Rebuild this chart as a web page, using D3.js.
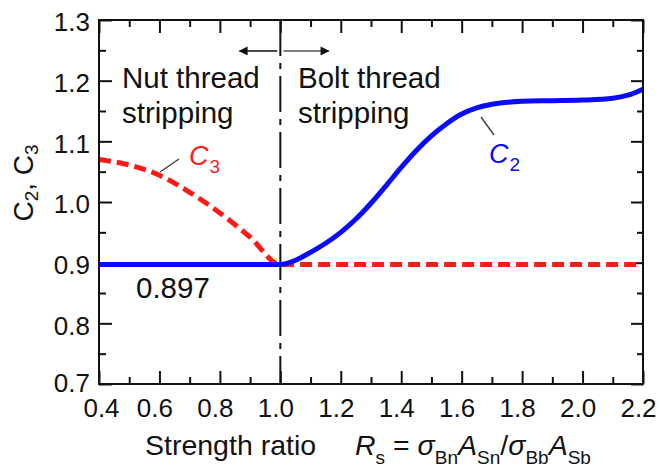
<!DOCTYPE html>
<html>
<head>
<meta charset="utf-8">
<script src="https://cdn.jsdelivr.net/npm/d3@7"></script>
<style>
  html, body { margin: 0; padding: 0; background: #fff; }
  svg { display: block; font-family: "Liberation Sans", Arial, sans-serif; }
</style>
</head>
<body>
<svg id="chart" width="660" height="468"></svg>
<script>
// Strength ratio Rs (x) and correction factors C2, C3 (y)
const c2Ratio = [0.4, 1.0, 1.05, 1.1, 1.15, 1.2, 1.25, 1.3, 1.35, 1.4, 1.45, 1.5, 1.55, 1.6, 1.65, 1.7, 1.8, 1.9, 2.0, 2.1, 2.15, 2.2];
const c2Value = [0.897, 0.897, 0.904, 0.917, 0.932, 0.950, 0.972, 0.998, 1.027, 1.057, 1.085, 1.109, 1.129, 1.145, 1.155, 1.161, 1.166, 1.167, 1.168, 1.171, 1.176, 1.186];
const c3Ratio = [0.4, 0.5, 0.6, 0.7, 0.8, 0.9, 1.0, 2.2];
const c3Value = [1.070, 1.061, 1.044, 1.016, 0.982, 0.942, 0.897, 0.897];

const xMajorTicks = [0.4, 0.6, 0.8, 1.0, 1.2, 1.4, 1.6, 1.8, 2.0, 2.2];
const xMinorTicks = [0.5, 0.7, 0.9, 1.1, 1.3, 1.5, 1.7, 1.9, 2.1];
const yMajorTicks = [0.7, 0.8, 0.9, 1.0, 1.1, 1.2, 1.3];
const yMinorTicks = [0.75, 0.85, 0.95, 1.05, 1.15, 1.25];
const boundaryRatio = 1.0;

const svg = d3.select("#chart");
const plotL = 99, plotR = 643, plotT = 20, plotB = 384;

const x = d3.scaleLinear().domain([0.4, 2.2]).range([plotL, plotR]);
const y = d3.scaleLinear().domain([0.7, 1.3]).range([plotB, plotT]);

const ink = "#111";
const blue = "#0a0aff";
const red = "#ff1a1a";

// ----- axes (ticks point inward on all four sides) -----
function styleAxis(g) {
  g.select(".domain").remove();
  g.selectAll(".tick line").attr("stroke", ink).attr("stroke-width", 2);
  g.selectAll(".tick text").attr("fill", ink).attr("font-size", 26)
    .attr("font-family", "Liberation Sans, Arial, sans-serif");
}

const xLab = svg.append("g").attr("transform", `translate(0,${plotB})`)
  .call(d3.axisBottom(x).tickValues(xMajorTicks).tickSize(-13).tickPadding(15).tickFormat(d3.format(".1f")))
  .call(styleAxis);
xLab.selectAll(".tick text").attr("dx", d => d === 0.4 ? 2 : -5);
svg.append("g").attr("transform", `translate(0,${plotB})`)
  .call(d3.axisBottom(x).tickValues(xMinorTicks).tickSize(-7).tickFormat(""))
  .call(styleAxis);
svg.append("g").attr("transform", `translate(0,${plotT})`)
  .call(d3.axisTop(x).tickValues(xMajorTicks).tickSize(-13).tickFormat(""))
  .call(styleAxis);
svg.append("g").attr("transform", `translate(0,${plotT})`)
  .call(d3.axisTop(x).tickValues(xMinorTicks).tickSize(-7).tickFormat(""))
  .call(styleAxis);

const yLab = svg.append("g").attr("transform", `translate(${plotL},0)`)
  .call(d3.axisLeft(y).tickValues(yMajorTicks).tickSize(-13).tickPadding(9).tickFormat(d3.format(".1f")))
  .call(styleAxis);
yLab.selectAll(".tick text").attr("dy", d => d === 0.7 ? "0.28em" : "0.42em");
svg.append("g").attr("transform", `translate(${plotL},0)`)
  .call(d3.axisLeft(y).tickValues(yMinorTicks).tickSize(-7).tickFormat(""))
  .call(styleAxis);
svg.append("g").attr("transform", `translate(${plotR},0)`)
  .call(d3.axisRight(y).tickValues(yMajorTicks).tickSize(-12).tickFormat(""))
  .call(styleAxis);
svg.append("g").attr("transform", `translate(${plotR},0)`)
  .call(d3.axisRight(y).tickValues(yMinorTicks).tickSize(-6).tickFormat(""))
  .call(styleAxis);

// ----- boundary between the two failure modes -----
svg.append("line")
  .attr("x1", x(boundaryRatio)).attr("x2", x(boundaryRatio))
  .attr("y1", y(1.3)).attr("y2", y(0.7))
  .attr("stroke", ink).attr("stroke-width", 2)
  .attr("stroke-dasharray", "36 7 6 7");

// ----- curves -----
const line = d3.line().x(d => x(d[0])).y(d => y(d[1])).curve(d3.curveMonotoneX);

svg.append("path")
  .datum(c3Ratio.map((r, i) => [r, c3Value[i]]))
  .attr("d", line)
  .attr("fill", "none").attr("stroke", red).attr("stroke-width", 5)
  .attr("stroke-dasharray", "12 6");

svg.append("path")
  .datum(c2Ratio.map((r, i) => [r, c2Value[i]]))
  .attr("d", line)
  .attr("fill", "none").attr("stroke", blue).attr("stroke-width", 5);

// ----- frame -----
svg.append("rect")
  .attr("x", plotL).attr("y", plotT).attr("width", plotR - plotL).attr("height", plotB - plotT)
  .attr("fill", "none").attr("stroke", ink).attr("stroke-width", 2);

// ----- direction arrows -----
const defs = svg.append("defs");
defs.append("marker").attr("id", "head").attr("viewBox", "0 0 10 10")
  .attr("refX", 9).attr("refY", 5).attr("markerUnits", "userSpaceOnUse")
  .attr("markerWidth", 15).attr("markerHeight", 9).attr("orient", "auto")
  .append("path").attr("d", "M0,0 L10,5 L0,10 Z").attr("fill", ink);

svg.append("line")
  .attr("x1", x(0.99)).attr("x2", x(0.865)).attr("y1", y(1.249)).attr("y2", y(1.249))
  .attr("stroke", ink).attr("stroke-width", 1.6).attr("marker-end", "url(#head)");
svg.append("line")
  .attr("x1", x(1.01)).attr("x2", x(1.16)).attr("y1", y(1.249)).attr("y2", y(1.249))
  .attr("stroke", "#555").attr("stroke-width", 1.6).attr("marker-end", "url(#head)");

// ----- region labels -----
function label(px, py, str) {
  svg.append("text").attr("x", px).attr("y", py).attr("font-size", 29.5)
    .attr("fill", ink).text(str);
}
label(122, 88, "Nut thread");
label(122, 123, "stripping");
label(298, 88, "Bolt thread");
label(298, 123, "stripping");
label(136, 298, "0.897");

// ----- curve labels with leaders -----
function curveLabel(px, py, sub, color, lx1, ly1, lx2, ly2) {
  svg.append("line").attr("x1", lx1).attr("y1", ly1).attr("x2", lx2).attr("y2", ly2)
    .attr("stroke", "#444").attr("stroke-width", 1.5);
  const t = svg.append("text").attr("x", px).attr("y", py).attr("fill", color).attr("font-size", 27);
  t.append("tspan").attr("font-style", "italic").text("C");
  t.append("tspan").attr("font-size", 19).attr("dy", 8).attr("dx", 1).text(sub);
}
curveLabel(189, 165, "3", red, 160, 172, 179, 159);
curveLabel(489, 163, "2", blue, 481, 117, 494, 135);

// ----- axis titles -----
const yt = svg.append("text").attr("transform", "translate(33,183) rotate(-90)")
  .attr("text-anchor", "middle").attr("font-size", 28).attr("fill", ink);
yt.append("tspan").text("C");
yt.append("tspan").attr("font-size", 19).attr("dy", 5).text("2");
yt.append("tspan").attr("dy", -5).text(", C");
yt.append("tspan").attr("font-size", 19).attr("dy", 5).text("3");

const xt = svg.append("text").attr("x", 145).attr("y", 455).attr("font-size", 28.5).attr("fill", ink);
xt.append("tspan").text("Strength ratio");
xt.append("tspan").attr("x", 355).attr("font-style", "italic").text("R");
xt.append("tspan").attr("font-size", 19).attr("dy", 9).text("s");
xt.append("tspan").attr("dy", -9).text(" = ");
xt.append("tspan").attr("font-style", "italic").text("σ");
xt.append("tspan").attr("font-size", 19).attr("dy", 9).text("Bn");
xt.append("tspan").attr("dy", -9).attr("font-style", "italic").text("A");
xt.append("tspan").attr("font-size", 19).attr("dy", 9).text("Sn");
xt.append("tspan").attr("dy", -9).text("/");
xt.append("tspan").attr("font-style", "italic").text("σ");
xt.append("tspan").attr("font-size", 19).attr("dy", 9).text("Bb");
xt.append("tspan").attr("dy", -9).attr("font-style", "italic").text("A");
xt.append("tspan").attr("font-size", 19).attr("dy", 9).text("Sb");
</script>
</body>
</html>
